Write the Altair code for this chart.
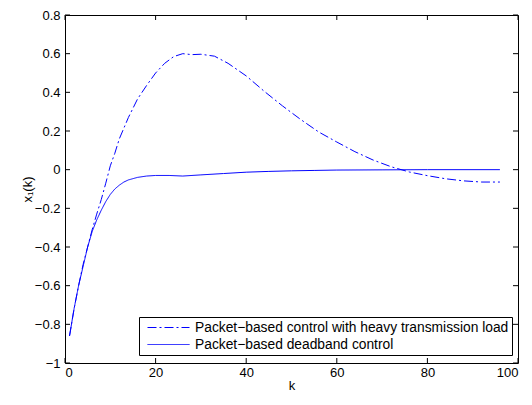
import altair as alt
import pandas as pd

# ---- data ----
series_names = [
    "Packet\u2212based control with heavy transmission load",
    "Packet\u2212based deadband control",
]

heavy_k = [1, 2, 3, 4, 5, 6, 7, 8, 9, 10, 11, 12, 14, 16, 18, 20, 22, 24, 26, 28, 30,
           33, 36, 40, 44, 48, 52, 56, 60, 64, 68, 72, 76, 80, 84, 88, 92, 96]
heavy_x1 = [-0.86, -0.72, -0.60, -0.49, -0.40, -0.31, -0.23, -0.155, -0.07, 0.02, 0.085,
            0.16, 0.27, 0.365, 0.435, 0.50, 0.55, 0.585, 0.60, 0.595, 0.597,
            0.587, 0.55, 0.485, 0.405, 0.33, 0.26, 0.195, 0.143, 0.093, 0.05, 0.015,
            -0.012, -0.031, -0.047, -0.058, -0.064, -0.064]

deadband_k = [1, 2, 3, 4, 5, 6, 7, 8, 9, 10, 11, 12, 13, 14, 16, 18, 20, 23, 26, 30,
              35, 40, 45, 50, 55, 60, 70, 80, 96]
deadband_x1 = [-0.86, -0.72, -0.60, -0.50, -0.40, -0.32, -0.26, -0.21, -0.165, -0.128,
               -0.10, -0.08, -0.064, -0.053, -0.04, -0.033, -0.03, -0.03, -0.033, -0.027,
               -0.02, -0.013, -0.009, -0.006, -0.004, -0.002, -0.001, 0.0, 0.0]

x_ticks = [0, 20, 40, 60, 80, 100]
y_ticks = [-1.0, -0.8, -0.6, -0.4, -0.2, 0.0, 0.2, 0.4, 0.6, 0.8]

# ---- layout / style ----
W, H = 453, 348
FONT = "Liberation Sans"
BLUE = "#0000ff"
TICK = 5

df = pd.concat([
    pd.DataFrame({"k": heavy_k, "x1": heavy_x1, "series": series_names[0]}),
    pd.DataFrame({"k": deadband_k, "x1": deadband_x1, "series": series_names[1]}),
], ignore_index=True)

xscale = alt.Scale(domain=[0, 100], nice=False, zero=False)
yscale = alt.Scale(domain=[-1, 0.8], nice=False, zero=False)

x_axis = alt.Axis(values=x_ticks, format="d", title="k", ticks=False, domain=False,
                  grid=False, labelPadding=3, titlePadding=0, titleColor="black")
y_axis = alt.Axis(values=y_ticks, format=".1~f", title="x\u2081(k)", ticks=False,
                  domain=False, grid=False, labelPadding=5, titleColor="black",
                  titleX=-38, titleY=H / 2, titleAlign="center", titleBaseline="middle")

legend = alt.Legend(
    title=None,
    orient="none",
    legendX=74,
    legendY=H - 46,
    fillColor="white",
    strokeColor="black",
    padding=3,
    rowPadding=2,
    symbolType="M-3,0H3",
    symbolSize=196,
    symbolStrokeWidth=1,
    symbolOffset=19,
    labelOffset=19,
    labelFont=FONT,
    labelFontSize=13.8,
    labelColor="black",
    labelLimit=500,
)

lines = alt.Chart(df).mark_line(strokeWidth=1, clip=True).encode(
    x=alt.X("k:Q", scale=xscale, axis=x_axis),
    y=alt.Y("x1:Q", scale=yscale, axis=y_axis),
    color=alt.Color("series:N", scale=alt.Scale(domain=series_names, range=[BLUE, BLUE]),
                    legend=legend),
    strokeDash=alt.StrokeDash("series:N",
                              scale=alt.Scale(domain=series_names, range=[[9, 3, 2, 3], [1, 0]]),
                              legend=legend),
)

xt = pd.DataFrame({"k": x_ticks})
yt = pd.DataFrame({"x1": y_ticks})

x_bottom = alt.Chart(xt).mark_rule(color="black", strokeWidth=1).encode(
    x=alt.X("k:Q", scale=xscale, axis=x_axis), y=alt.value(H), y2=alt.value(H - TICK))
x_top = alt.Chart(xt).mark_rule(color="black", strokeWidth=1).encode(
    x=alt.X("k:Q", scale=xscale, axis=x_axis), y=alt.value(0), y2=alt.value(TICK))
y_left = alt.Chart(yt).mark_rule(color="black", strokeWidth=1).encode(
    y=alt.Y("x1:Q", scale=yscale, axis=y_axis), x=alt.value(0), x2=alt.value(TICK))
y_right = alt.Chart(yt).mark_rule(color="black", strokeWidth=1).encode(
    y=alt.Y("x1:Q", scale=yscale, axis=y_axis), x=alt.value(W), x2=alt.value(W - TICK))

chart = alt.layer(lines, x_bottom, x_top, y_left, y_right).properties(
    width=W,
    height=H,
    autosize=alt.AutoSizeParams(type="none"),
    padding={"left": 57, "top": 7, "right": 6, "bottom": 30},
    background="white",
).configure_view(
    stroke="black", strokeWidth=1
).configure_axis(
    labelFont=FONT, labelFontSize=13, labelColor="black",
    titleFont=FONT, titleFontSize=13, titleColor="black", titleFontWeight="normal",
)

chart.save("out.html", embed_options={"renderer": "svg", "actions": False})
